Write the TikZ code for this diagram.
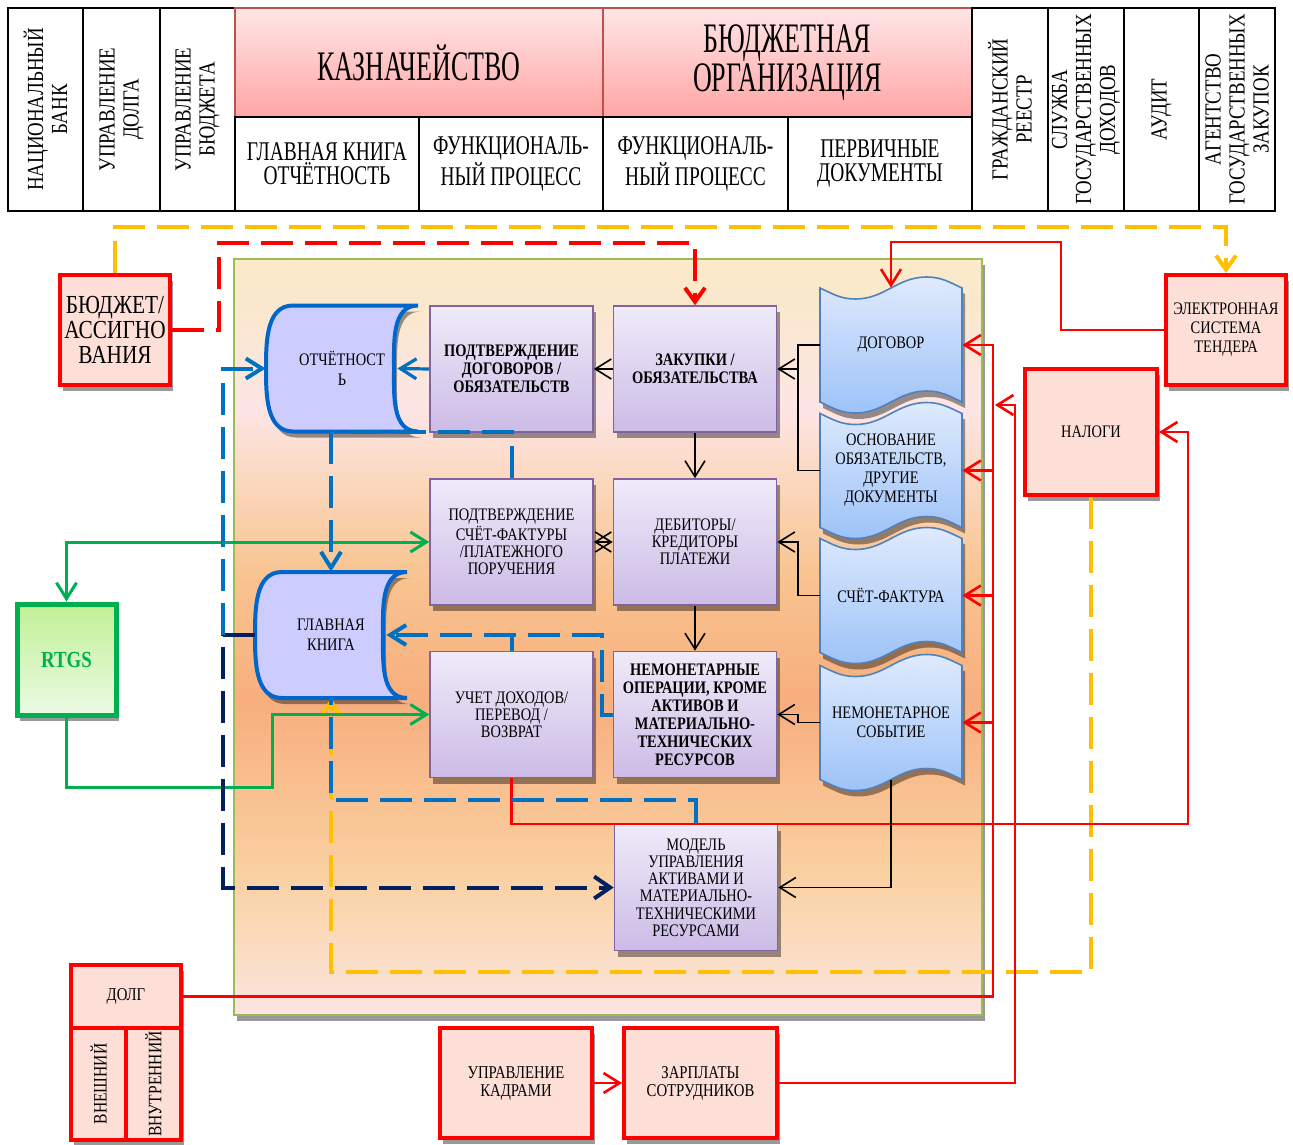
\documentclass[tikz,border=0pt]{standalone}
\usepackage{fontspec}
\setmainfont{Liberation Serif}[FakeStretch=0.82]
\newfontfamily\hdrfont{Liberation Serif}[FakeStretch=0.62]
\newfontfamily\subfont{Liberation Serif}[FakeStretch=0.72]
\usetikzlibrary{arrows.meta,calc,positioning,shadows}

\definecolor{ylwc}{RGB}{255,192,0}
\definecolor{redc}{RGB}{255,0,0}
\definecolor{bluec}{RGB}{0,112,192}
\definecolor{navyc}{RGB}{0,32,96}
\definecolor{grnc}{RGB}{0,176,80}
\definecolor{purpbord}{RGB}{128,100,162}
\definecolor{purptop}{RGB}{239,235,249}
\definecolor{purpbot}{RGB}{204,187,230}
\definecolor{docbord}{RGB}{79,129,189}
\definecolor{doctop}{RGB}{223,234,253}
\definecolor{docbot}{RGB}{157,195,248}
\definecolor{stobord}{RGB}{0,102,204}
\definecolor{stofill}{RGB}{204,204,255}
\definecolor{redfill}{RGB}{253,223,216}
\definecolor{hdrtop}{RGB}{255,230,230}
\definecolor{hdrbot}{RGB}{255,165,165}
\definecolor{hdrbord}{RGB}{192,80,77}
\definecolor{rtgstop}{RGB}{192,240,150}
\definecolor{rtgsbot}{RGB}{236,250,228}
\definecolor{panbord}{RGB}{155,187,89}
\definecolor{pan1}{RGB}{252,228,226}
\definecolor{pan2}{RGB}{251,221,196}
\definecolor{pan3}{RGB}{250,208,160}
\definecolor{pan4}{RGB}{248,174,126}
\definecolor{pan5}{RGB}{248,195,143}
\definecolor{pan6}{RGB}{251,216,190}
\definecolor{pan7}{RGB}{253,229,229}
\definecolor{pan8}{RGB}{250,232,205}
\definecolor{pan9}{RGB}{250,234,200}

\pgfdeclareverticalshading{panelshade}{100bp}{color(0bp)=(pan1); color(25bp)=(pan1);
  color(29bp)=(pan2); color(34.5bp)=(pan3); color(45.8bp)=(pan4); color(53.8bp)=(pan5);
  color(60.4bp)=(pan6); color(65bp)=(pan7); color(72bp)=(pan8); color(75bp)=(pan9);
  color(100bp)=(pan9)}

\tikzset{
  cell/.style = {
    draw=black, line width=0.6pt, align=center, inner sep=1pt,
    font=\fontsize{11.5}{12}\selectfont
  },
  vcell/.style = {
    cell, rotate=90, minimum width=101.5pt
  },
  subcell/.style = {
    cell, minimum height=47pt, font=\subfont\fontsize{13.5}{12}\selectfont
  },
  headcell/.style = {
    draw=hdrbord, line width=1pt, top color=hdrtop, bottom color=hdrbot,
    align=center, minimum height=54.5pt,
    font=\hdrfont\fontsize{21}{19.5}\selectfont
  },
  shd/.style = {
    drop shadow={shadow xshift=1.5pt, shadow yshift=-3pt, opacity=0.4, fill=black}
  },
  panel/.style = {
    draw=panbord, line width=1pt, shade, shading=panelshade, shd
  },
  proc/.style = {
    draw=purpbord, line width=0.8pt, top color=purptop, bottom color=purpbot,
    minimum width=81.5pt, minimum height=63pt, inner sep=1pt, align=center, shd,
    font=\fontsize{8.8}{8.6}\selectfont
  },
  procb/.style = {
    proc, font=\bfseries\fontsize{8.8}{9}\selectfont
  },
  ext/.style = {
    draw=redc, line width=2pt, fill=redfill, align=center, inner sep=1pt, shd,
    font=\fontsize{8.8}{9.5}\selectfont
  },
  rtgsbox/.style = {
    draw=grnc, line width=2.5pt, top color=rtgstop, bottom color=rtgsbot,
    minimum width=49.5pt, minimum height=55.5pt, text=grnc, shd,
    font=\bfseries\fontsize{11.5}{12}\selectfont
  },
  stored/.style = {
    draw=stobord, line width=2pt, fill=stofill, shd
  },
  storetext/.style = {
    minimum width=76pt, minimum height=63pt, inner sep=0pt, align=center,
    font=\fontsize{8.8}{10}\selectfont
  },
  tape/.style = {
    draw=docbord, line width=0.8pt, top color=doctop, bottom color=docbot, shd
  },
  tapetext/.style = {
    minimum width=71pt, minimum height=57pt, inner sep=0pt, align=center,
    font=\fontsize{8.8}{9.5}\selectfont
  },
  blkln/.style = {
    draw=black, line width=0.8pt, >={Straight Barb[length=8pt,width=10pt]}
  },
  redln/.style = {
    draw=redc, line width=1.3pt, >={Straight Barb[length=8pt,width=10pt]}
  },
  reddash/.style = {
    draw=redc, line width=2pt, dash pattern=on 16pt off 6pt,
    >={Straight Barb[length=7pt,width=10pt]}
  },
  ylwdash/.style = {
    draw=ylwc, line width=2pt, dash pattern=on 16pt off 6pt,
    >={Straight Barb[length=7pt,width=10pt]}
  },
  bluln/.style = {
    draw=bluec, line width=1.6pt, >={Straight Barb[length=8pt,width=10pt]}
  },
  bludash/.style = {
    bluln, line width=2pt, dash pattern=on 16pt off 6pt
  },
  navdash/.style = {
    draw=navyc, line width=2pt, dash pattern=on 16pt off 6pt,
    >={Straight Barb[length=8pt,width=11pt]}
  },
  grnln/.style = {
    draw=grnc, line width=1.5pt, >={Straight Barb[length=8pt,width=10pt]}
  }
}

% stored data block: name, centre, text
\newcommand\storedata[3]{%
  \path[stored] ($(#2)+(-49,63)$) to[out=180,in=90] ++(-27,-63)
    to[out=-90,in=180] ++(27,-63) -- ++(125,0)
    to[out=180,in=-90] ++(-24,63) to[out=90,in=180] ++(24,63) -- cycle;
  \node[storetext] (#1) at (#2) {#3};
  \coordinate (#1-in) at ($(#1.east)+(-21,0)$);
}
% document on punched tape: name, centre, text
\newcommand\tapedoc[3]{%
  \path[tape] ($(#2)+(-71,57)$) to[out=-25,in=180] ++(35.5,-11)
    to[out=0,in=180] ++(71,22) to[out=0,in=155] ++(35.5,-11)
    -- ++(0,-114) to[out=155,in=0] ++(-35.5,11)
    to[out=180,in=0] ++(-71,-22) to[out=180,in=-25] ++(-35.5,11) -- cycle;
  \node[tapetext] (#1) at (#2) {#3};
}

\begin{document}
\begin{tikzpicture}[x=0.5pt,y=0.5pt]
		\useasboundingbox (0,0) rectangle (1293,-1144);
		% header row
		\node[vcell, minimum height=37.5pt] (nb) at (45.5,-109.5) {НАЦИОНАЛЬНЫЙ\\БАНК};
		\node[vcell, minimum height=38.5pt] (ud) at (121.5,-109.5) {УПРАВЛЕНИЕ\\ДОЛГА};
		\node[vcell, minimum height=37.5pt] (ub) at (197.5,-109.5) {УПРАВЛЕНИЕ\\БЮДЖЕТА};
		\node[headcell, minimum width=184pt] (kaz) at (419,-62.5) {КАЗНАЧЕЙСТВО};
		\node[headcell, minimum width=184.5pt] (borg) at (787.5,-62.5) {БЮДЖЕТНАЯ\\ОРГАНИЗАЦИЯ};
		\node[subcell, minimum width=92pt] (gkh) at (327,-164) {ГЛАВНАЯ КНИГА\\ОТЧЁТНОСТЬ};
		\node[subcell, minimum width=92pt] (fpk) at (511,-164) {ФУНКЦИОНАЛЬ-\\НЫЙ ПРОЦЕСС};
		\node[subcell, minimum width=92.5pt] (fpb) at (695.5,-164) {ФУНКЦИОНАЛЬ-\\НЫЙ ПРОЦЕСС};
		\node[subcell, minimum width=92pt] (pdoc) at (880,-164) {ПЕРВИЧНЫЕ\\ДОКУМЕНТЫ};
		\node[vcell, minimum height=38pt] (grr) at (1010,-109.5) {ГРАЖДАНСКИЙ\\РЕЕСТР};
		\node[vcell, minimum height=38pt] (sgd) at (1086,-109.5) {СЛУЖБА\\ГОСУДАРСТВЕННЫХ\\ДОХОДОВ};
		\node[vcell, minimum height=37.5pt] (aud) at (1161.5,-109.5) {АУДИТ};
		\node[vcell, minimum height=38pt] (agz) at (1237,-109.5) {АГЕНТСТВО\\ГОСУДАРСТВЕННЫХ\\ЗАКУПОК};
%
		\node[panel, minimum width=374pt, minimum height=378pt] (panel) at (608,-637) {};
%
		\storedata{otch}{342,-368.5}{ОТЧЁТНОСТ\\Ь}
		\storedata{gkn}{331,-635}{ГЛАВНАЯ\\КНИГА}
%
		\node[procb] (pdo) at (511.5,-369) {ПОДТВЕРЖДЕНИЕ\\ДОГОВОРОВ /\\ОБЯЗАТЕЛЬСТВ};
		\node[procb] (zak) at ($(pdo)+(183.5,0)$) {ЗАКУПКИ /\\ОБЯЗАТЕЛЬСТВА};
		\node[proc] (psf) at ($(pdo)+(0,-173)$) {ПОДТВЕРЖДЕНИЕ\\СЧЁТ-ФАКТУРЫ\\/ПЛАТЕЖНОГО\\ПОРУЧЕНИЯ};
		\node[proc] (deb) at ($(zak)+(0,-173)$) {ДЕБИТОРЫ/\\КРЕДИТОРЫ\\ПЛАТЕЖИ};
		\node[proc] (uch) at ($(psf)+(0,-172.5)$) {УЧЕТ ДОХОДОВ/\\ПЕРЕВОД /\\ВОЗВРАТ};
		\node[procb] (nemo) at ($(deb)+(0,-172.5)$) {НЕМОНЕТАРНЫЕ\\ОПЕРАЦИИ, КРОМЕ\\АКТИВОВ И\\МАТЕРИАЛЬНО-\\ТЕХНИЧЕСКИХ\\РЕСУРСОВ};
		\node[proc] (mod) at ($(nemo)+(1,-173)$) {МОДЕЛЬ\\УПРАВЛЕНИЯ\\АКТИВАМИ И\\МАТЕРИАЛЬНО-\\ТЕХНИЧЕСКИМИ\\РЕСУРСАМИ};
%
		\tapedoc{dog}{891,-345}{ДОГОВОР}
		\tapedoc{osn}{891,-470.5}{ОСНОВАНИЕ\\ОБЯЗАТЕЛЬСТВ,\\ДРУГИЕ\\ДОКУМЕНТЫ}
		\tapedoc{sfk}{891,-595.5}{СЧЁТ-ФАКТУРА}
		\tapedoc{nes}{891,-722.5}{НЕМОНЕТАРНОЕ\\СОБЫТИЕ}
%
		\node[ext, minimum width=55pt, minimum height=55pt, font=\fontsize{13}{12.5}\selectfont] (bud) at (115,-330) {БЮДЖЕТ/\\АССИГНО\\ВАНИЯ};
		\node[ext, minimum width=60pt, minimum height=55pt] (ets) at (1226,-330) {ЭЛЕКТРОННАЯ\\СИСТЕМА\\ТЕНДЕРА};
		\node[ext, minimum width=66pt, minimum height=63pt] (nal) at (1091,-432) {НАЛОГИ};
		\node[rtgsbox] (rtgs) at (66.5,-659.5) {RTGS};
		\node[ext, minimum width=55pt, minimum height=31.5pt, font=\fontsize{9}{10}\selectfont] (dolg) at (126,-996.5) {ДОЛГ};
		\node[ext, rotate=90, minimum width=56pt, minimum height=27.5pt, font=\fontsize{9.5}{10}\selectfont] (vne) at (98.5,-1084) {ВНЕШНИЙ};
		\node[ext, rotate=90, minimum width=56pt, minimum height=27.5pt, font=\fontsize{9.5}{10}\selectfont] (vnu) at (153.5,-1084) {ВНУТРЕННИЙ};
		\node[ext, minimum width=76pt, minimum height=55pt, font=\fontsize{9}{9}\selectfont] (ukad) at (516,-1083) {УПРАВЛЕНИЕ\\КАДРАМИ};
		\node[ext, minimum width=76.5pt, minimum height=55pt, font=\fontsize{9}{9}\selectfont] (zarp) at (700.5,-1083) {ЗАРПЛАТЫ\\СОТРУДНИКОВ};
%
		\coordinate (rbus) at (993,-345);
		\coordinate (brk) at (798,-369);
		\coordinate (ljn) at (223,-635);
%
		\draw[ylwdash,->] (bud.north) -- ++(0,46) -| (ets.north);
		\draw[ylwdash,->] (nal.south) |- (gkn.south |- 0,-972) -- (gkn.south);
		\draw[reddash,->] (bud.east) -- ++(47,0) |- (zak.north |- 0,-243) -- (zak.north);
		\draw[redln,->] (ets.west) -- ++(-103,0) |- (dog.north |- 0,-242) -- (dog.north);
		\draw[redln,->] (dolg.east) -| (rbus) -- (dog.east);
		\draw[redln,->] (osn.east -| rbus) -- (osn.east);
		\draw[redln,->] (sfk.east -| rbus) -- (sfk.east);
		\draw[redln,->] (nes.east -| rbus) -- (nes.east);
		\draw[redln,->] (zarp.east) -| (1015,-405) -- ++(-20,0);
		\draw[redln,->] (uch.south) |- (1188,-824) |- (nal.east);
		\draw[redln,->] (ukad) -- (zarp);
%
		\draw[grnln,<->] (rtgs.north) |- (psf.west);
		\draw[grnln,->] (rtgs.south) -- ++(0,-70) -| ([xshift=-78.5pt]uch.west) -- (uch.west);
%
		\draw[bluln,->] (pdo.west) -- (otch-in);
		\draw[navdash,->] (gkn.west) -- (ljn) |- (mod.west);
		\draw[bludash,->] (ljn) |- (otch.west);
		\draw[bludash,->] (gkn.north |- otch.south) -- (gkn.north);
		\draw[bludash] (psf.north) |- (gkn.north |- otch.south);
		\draw[bludash,->] (nemo.west) -- ++(-11,0) |- (gkn-in);
		\draw[bludash] (uch.north) -- (uch.north |- gkn-in);
		\draw[bludash] (mod.north) |- (gkn.south |- 0,-800) -- (gkn.south);
%
		\draw[blkln,->] (zak) -- (pdo);
		\draw[blkln,->] (zak) -- (deb);
		\draw[blkln,->] (deb) -- (nemo);
		\draw[blkln,<->] (psf) -- (deb);
		\draw[blkln] (dog.west) -| (brk |- osn.west) -- (osn.west);
		\draw[blkln,->] (brk) -- (zak.east);
		\draw[blkln,->] (sfk.west) -| (brk |- deb.east) -- (deb.east);
		\draw[blkln,->] (nes.west) -| (brk |- nemo.east) -- (nemo.east);
		\draw[blkln,->] (nes.south) |- (mod.east);
\end{tikzpicture}
\end{document}
